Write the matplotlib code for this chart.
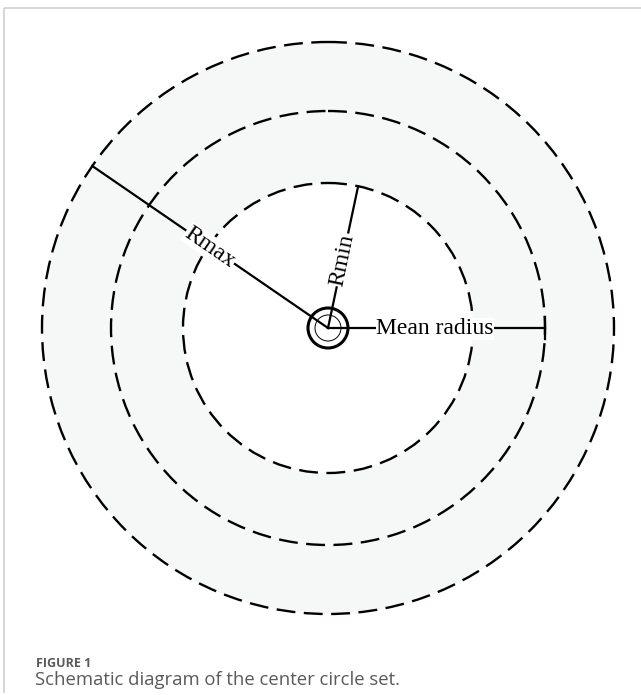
import numpy as np
import matplotlib.pyplot as plt
from matplotlib.patches import Circle

# figure laid out in pixel units (641 x 695), y grows downwards
center = (328, 328)
circle_radii = [145, 217, 286]          # Rmin, mean radius, Rmax
line_labels = ["Rmin", "Mean radius", "Rmax"]
line_angles = [78, 0, 145.5]            # degrees, counter-clockwise from +x
label_pos = [0.48, 0.49, 0.5]           # fraction of line length where label sits
caption_title = "FIGURE 1"
caption_text = "Schematic diagram of the center circle set."

fig = plt.figure(figsize=(6.41, 6.95), dpi=100)
ax = fig.add_axes([0, 0, 1, 1])
ax.set_xlim(0, 641)
ax.set_ylim(695, 0)
ax.axis("off")

# shaded ring between Rmin and Rmax
ax.add_patch(Circle(center, circle_radii[2], facecolor="#f6f7f7", edgecolor="none", zorder=1))
ax.add_patch(Circle(center, circle_radii[0], facecolor="white", edgecolor="none", zorder=1))

for r in circle_radii:
    ax.add_patch(Circle(center, r, fill=False, edgecolor="black", lw=1.7,
                        linestyle=(0, (8, 3.6)), zorder=2))

# small marker circles at the centre
ax.add_patch(Circle(center, 20, fill=False, edgecolor="black", lw=2.2, zorder=4))
ax.add_patch(Circle(center, 13, fill=False, edgecolor="black", lw=0.7, zorder=4))

cx, cy = center
for label, ang, r, f in zip(line_labels, line_angles, circle_radii, label_pos):
    a = np.deg2rad(ang)
    ex, ey = cx + r * np.cos(a), cy - r * np.sin(a)
    ax.plot([cx, ex], [cy, ey], color="black", lw=1.6, zorder=3)
    rot = ang if ang < 90 else ang - 180
    if label == "Mean radius":
        ax.plot([ex, ex], [ey - 11, ey + 11], color="black", lw=1.6, zorder=3)
        tx, ty = 435, cy + 1
    else:
        tx, ty = cx + f * r * np.cos(a), cy - f * r * np.sin(a)
    ax.text(tx, ty, label, family="Liberation Serif", fontsize=17,
            rotation=rot, rotation_mode="anchor", ha="center", va="center",
            bbox=dict(facecolor="white", edgecolor="none", pad=0.5), zorder=5)

# page frame (top and left only)
ax.plot([4, 641], [7.5, 7.5], color="#d0d0d0", lw=1.2, solid_capstyle="butt")
ax.plot([4, 4], [7.5, 693], color="#d0d0d0", lw=1.2, solid_capstyle="butt")

ax.text(36, 667, caption_title, family="Open Sans", fontweight="bold",
        fontsize=9, color="#5a5a5a", va="baseline", ha="left")
ax.text(35, 685, caption_text, family="Open Sans", fontsize=13.3,
        color="#5a5a5a", va="baseline", ha="left")

fig.savefig("out.png", dpi=100)
